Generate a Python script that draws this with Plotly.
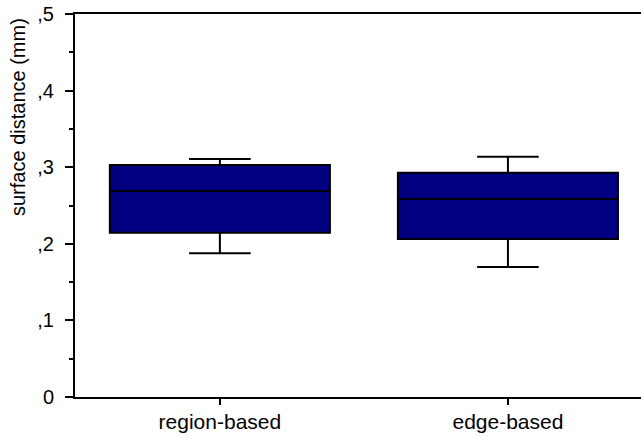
import plotly.graph_objects as go

categories = ["region-based", "edge-based"]
lower_whisker = [0.1876, 0.1697]
q1_values = [0.2145, 0.2063]
median_values = [0.2689, 0.2585]
q3_values = [0.3029, 0.2928]
upper_whisker = [0.3107, 0.3137]

y_tick_vals = [0, 0.1, 0.2, 0.3, 0.4, 0.5]
y_tick_text = ["0", ",1", ",2", ",3", ",4", ",5"]
y_minor_vals = [0.05, 0.15, 0.25, 0.35, 0.45]

fig = go.Figure()
for i, cat in enumerate(categories):
    fig.add_trace(go.Box(
        x=[cat],
        q1=[q1_values[i]],
        median=[median_values[i]],
        q3=[q3_values[i]],
        lowerfence=[lower_whisker[i]],
        upperfence=[upper_whisker[i]],
        fillcolor="#000080",
        line=dict(color="black", width=2),
        width=0.764,
        whiskerwidth=0.28,
        showlegend=False,
        hoverinfo="skip",
    ))

fig.update_layout(
    width=641, height=436,
    margin=dict(l=75, r=0, t=14, b=39),
    paper_bgcolor="white", plot_bgcolor="white",
    font=dict(family="Liberation Sans, Arial, sans-serif", color="black", size=20),
    showlegend=False,
)
fig.update_xaxes(
    type="category",
    range=[-0.503, 1.462],
    showline=True, linecolor="black", linewidth=2, mirror=True,
    ticks="outside", ticklen=6, tickwidth=2, tickcolor="black",
    ticklabelstandoff=-1,
    showgrid=False, zeroline=False,
    tickfont=dict(size=21),
)
fig.update_yaxes(
    range=[0, 0.5],
    tickmode="array", tickvals=y_tick_vals, ticktext=y_tick_text,
    showline=True, linecolor="black", linewidth=2,
    ticks="outside", ticklen=8, tickwidth=2, tickcolor="black",
    ticklabelstandoff=7,
    minor=dict(tickmode="array", tickvals=y_minor_vals, ticks="outside",
               ticklen=4, tickwidth=2, tickcolor="black", showgrid=False),
    showgrid=False, zeroline=False,
    tickfont=dict(size=20),
)
fig.add_annotation(
    text="surface distance (mm)", textangle=-90,
    xref="paper", yref="paper", x=-75/566, y=1.0, xanchor="left", yanchor="top",
    xshift=5, yshift=-2,
    showarrow=False, font=dict(size=20),
)

fig.write_html("out.html")
